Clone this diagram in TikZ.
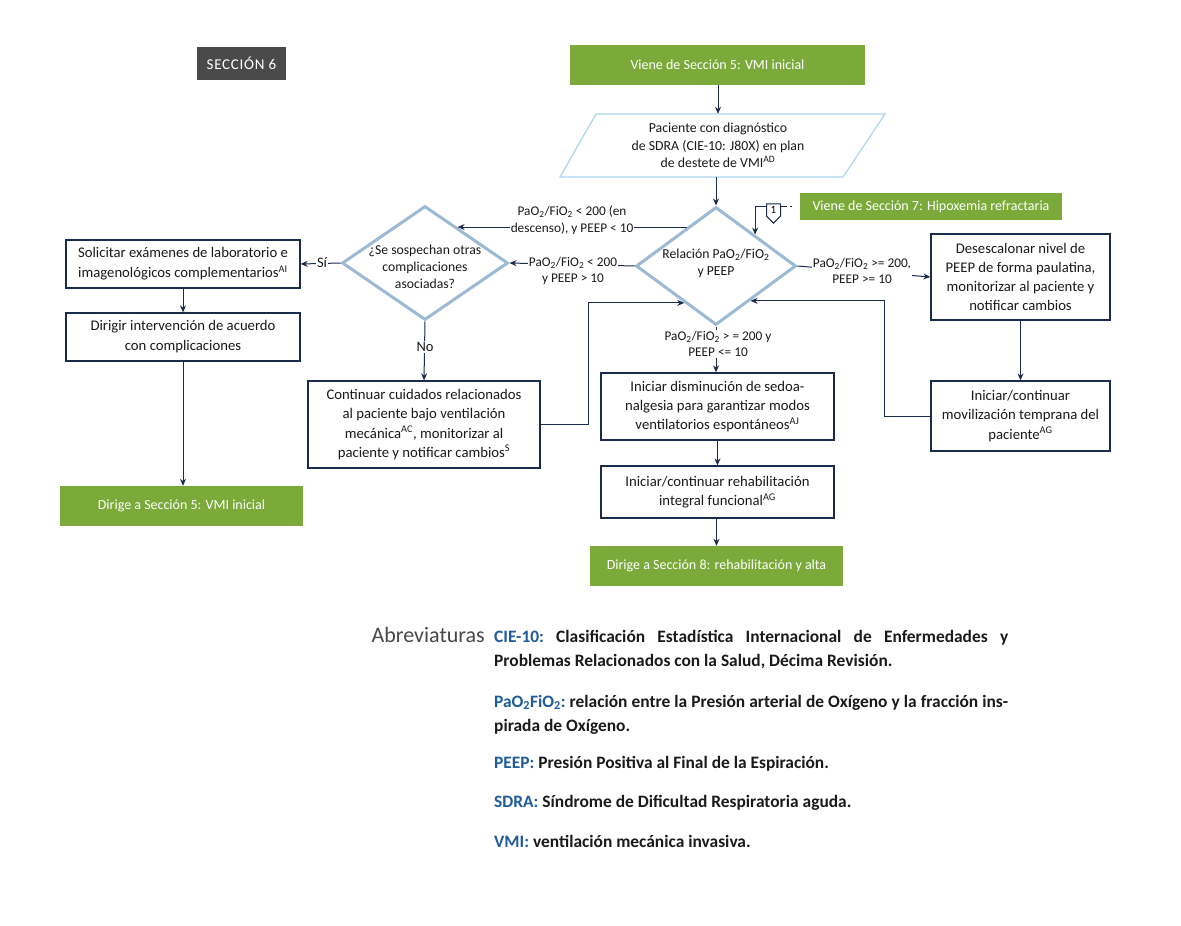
\documentclass[tikz,border=0pt]{standalone}
\usepackage{fontspec}
\setmainfont{Carlito}
\newfontfamily\secfont[LetterSpace=5]{Carlito}
\usetikzlibrary{shapes.geometric,shapes.symbols,arrows.meta,calc}
\definecolor{navy}{HTML}{1B2B4B}
\definecolor{vgreen}{HTML}{7BAA3A}
\definecolor{dia}{HTML}{9DBAD4}
\definecolor{para}{HTML}{A9D5F0}
\definecolor{dgray}{HTML}{4A4A4A}
\definecolor{abblue}{HTML}{1F5C99}
\definecolor{txt}{HTML}{1A1A1A}
\definecolor{abgray}{HTML}{484848}
\tikzset{
 box/.style={draw=navy,line width=1.3pt,fill=white,align=center,text=txt,inner sep=0pt,font=\fontsize{14.7}{19.2}\selectfont},
 gbox/.style={fill=vgreen,text=white,inner sep=0pt,font=\fontsize{14}{17}\selectfont},
 dbox/.style={draw=dia,line width=3pt,diamond,inner sep=0pt},
 dtext/.style={align=center,text=txt,inner sep=0pt,font=\fontsize{13.7}{17}\selectfont},
 arr/.style={draw=navy,line width=1pt,-{Stealth[length=7pt,width=6pt]}},
 lab/.style={fill=white,align=center,text=txt,inner sep=1pt,font=\fontsize{13.3}{16.5}\selectfont},
 abbr/.style={anchor=base west,text width=514pt,align=justify,inner sep=0pt,font=\fontsize{17.4}{24}\selectfont\bfseries\frenchspacing,text=txt},
}
\newcommand{\sbt}{\textsubscript{2}}
\begin{document}
\begin{tikzpicture}[x=1pt,y=-1pt]
\useasboundingbox (0,0) rectangle (1181,926);
\fill[white] (0,0) rectangle (1181,926);

% header
\node[fill=dgray,text=white,minimum width=89pt,minimum height=33pt,inner sep=0pt,font=\secfont\fontsize{15}{17}\selectfont] (sec) at (241.5,63.5) {SECCIÓN 6};

% green terminals
\node[gbox,minimum width=295pt,minimum height=40pt] (v5) at (717.5,65) {Viene de Sección 5: VMI inicial};
\node[gbox,minimum width=262pt,minimum height=27pt] (v7) at (931,206.5) {Viene de Sección 7: Hipoxemia refractaria};
\node[gbox,minimum width=243pt,minimum height=40pt] (d5) at (181.5,506) {Dirige a Sección 5: VMI inicial};
\node[gbox,minimum width=253pt,minimum height=40pt] (d8) at (716.5,566) {Dirige a Sección 8: rehabilitación y alta};

% parallelogram
\draw[draw=para,line width=1.2pt] (596,114) -- (885,114) -- (843,177) -- (560,177) -- cycle;
\node[dtext,minimum width=240pt,minimum height=63pt,font=\fontsize{13.8}{17.5}\selectfont] (pac) at (718,145.5) {Paciente con diagnóstico\\de SDRA (CIE-10: J80X) en plan\\de destete de VMI\textsuperscript{AD}};

% diamonds
\node[dbox,minimum width=160pt,minimum height=118pt] (rel) at (716,266) {};
\node[dtext] (relt) at (716,263) {Relación PaO\sbt/FiO\sbt\\y PEEP};
\node[dbox,minimum width=166pt,minimum height=114pt] (q) at (425,263) {};
\node[dtext] (qt) at (425,267) {¿Se sospechan otras\\complicaciones\\asociadas?};

% boxes
\node[box,minimum width=234pt,minimum height=48pt,font=\fontsize{14.7}{20}\selectfont] (sol) at (183,264) {Solicitar exámenes de laboratorio e\\imagenológicos complementarios\textsuperscript{AI}};
\node[box,minimum width=234pt,minimum height=48pt,font=\fontsize{14.7}{20}\selectfont] (dir) at (183,337) {Dirigir intervención de acuerdo\\con complicaciones};
\node[box,minimum width=232pt,minimum height=87pt] (cont) at (424,424.5) {Continuar cuidados relacionados\\al paciente bajo ventilación\\mecánica\textsuperscript{AC}, monitorizar al\\paciente y notificar cambios\textsuperscript{S}};
\node[box,minimum width=233pt,minimum height=67pt] (dism) at (717.5,406.5) {Iniciar disminución de sedoa-\\nalgesia para garantizar modos\\ventilatorios espontáneos\textsuperscript{AJ}};
\node[box,minimum width=233pt,minimum height=52pt] (reh) at (717.5,492) {Iniciar/continuar rehabilitación\\integral funcional\textsuperscript{AG}};
\node[box,minimum width=179pt,minimum height=86pt] (des) at (1020.5,277) {Desescalonar nivel de\\PEEP de forma paulatina,\\monitorizar al paciente y\\notificar cambios};
\node[box,minimum width=179pt,minimum height=70pt] (mov) at (1020.5,416) {Iniciar/continuar\\movilización temprana del\\paciente\textsuperscript{AG}};

% connector 1
\node[signal,signal to=south,draw=navy,line width=1pt,fill=white,minimum width=14pt,minimum height=15pt,inner sep=0pt,font=\fontsize{11}{11}\selectfont] (con1) at (773.5,210) {1};

% points on diamond edges
\coordinate (rtl) at ($(rel.north)!0.356!(rel.west)$);
\coordinate (qtr) at ($(q.north)!0.386!(q.east)$);
\coordinate (rbl) at ($(rel.west)!0.61!(rel.south)$);
\coordinate (rbr) at ($(rel.east)!0.576!(rel.south)$);
\coordinate (rtr) at ($(rel.north)!0.48!(rel.east)$);
\coordinate (lpx) at (588,0);
\coordinate (rpx) at (884,0);

% connectors
\draw[arr] (v5.south -| pac.north) -- (pac.north);
\draw[arr] (pac.south -| rel.north) -- (rel.north);
\draw[arr] (rtl) -- (rtl -| qtr);
\draw[arr] (rel.west) -- (q.east);
\draw[arr] (q.west) -- (sol.east);
\draw[arr] (q.south) -- (cont.north);
\draw[arr] (sol.south) -- (dir.north);
\draw[arr] (dir.south) -- (dir.south |- d5.north);
\draw[arr] (rel.east) -- (des.west);
\draw[arr] (rel.south) -- (rel.south |- dism.north);
\draw[arr] (dism.south) -- (reh.north);
\draw[arr] (reh.south -| d8.north) -- (d8.north);
\draw[arr] (des.south) -- (mov.north);
\draw[arr] (cont.east) -| (rbl -| lpx) -- (rbl);
\draw[arr] (mov.west) -| (rbr -| rpx) -- (rbr);
\draw[arr] ([yshift=-3.5pt]con1.north west) -| (rtr);
\draw[draw=navy,line width=1pt,dash pattern=on 6pt off 3pt on 1.5pt off 30pt] ([yshift=-3.5pt]con1.north east) -- ([yshift=-3.5pt]con1.north east -| v7.west);

% edge labels
\node[lab] (l1) at (572,220) {PaO\sbt/FiO\sbt{} < 200 (en\\descenso), y PEEP < 10};
\node[lab] (l2) at (573,271) {PaO\sbt/FiO\sbt{} < 200\\y PEEP > 10};
\node[lab] (l3) at (862,271) {PaO\sbt/FiO\sbt{} >= 200,\\PEEP >= 10};
\node[lab] (l4) at (718,344) {PaO\sbt/FiO\sbt{} > = 200 y\\PEEP <= 10};
\node[lab,font=\fontsize{14.5}{16}\selectfont] (lsi) at (322,263) {Sí};
\node[lab,font=\fontsize{14.5}{16}\selectfont] (lno) at (425,347) {No};

% abbreviations
\node[anchor=base east,inner sep=0pt,text=abgray,font=\fontsize{22}{24}\selectfont] (abr) at (485,642) {Abreviaturas};
\node[abbr] (a1) at (494,642) {\textcolor{abblue}{CIE-10:} Clasificación Estadística Internacional de Enfermedades y\linebreak Problemas Relacionados con la Salud, Décima Revisión.};
\node[abbr] (a2) at (494,707) {\textcolor{abblue}{PaO\sbt FiO\sbt:} relación entre la Presión arterial de Oxígeno y la fracción ins-\linebreak pirada de Oxígeno.};
\node[abbr] (a3) at (494,768) {\textcolor{abblue}{PEEP:} Presión Positiva al Final de la Espiración.};
\node[abbr] (a4) at (494,807) {\textcolor{abblue}{SDRA:} Síndrome de Dificultad Respiratoria aguda.};
\node[abbr] (a5) at (494,847) {\textcolor{abblue}{VMI:} ventilación mecánica invasiva.};
\end{tikzpicture}
\end{document}
